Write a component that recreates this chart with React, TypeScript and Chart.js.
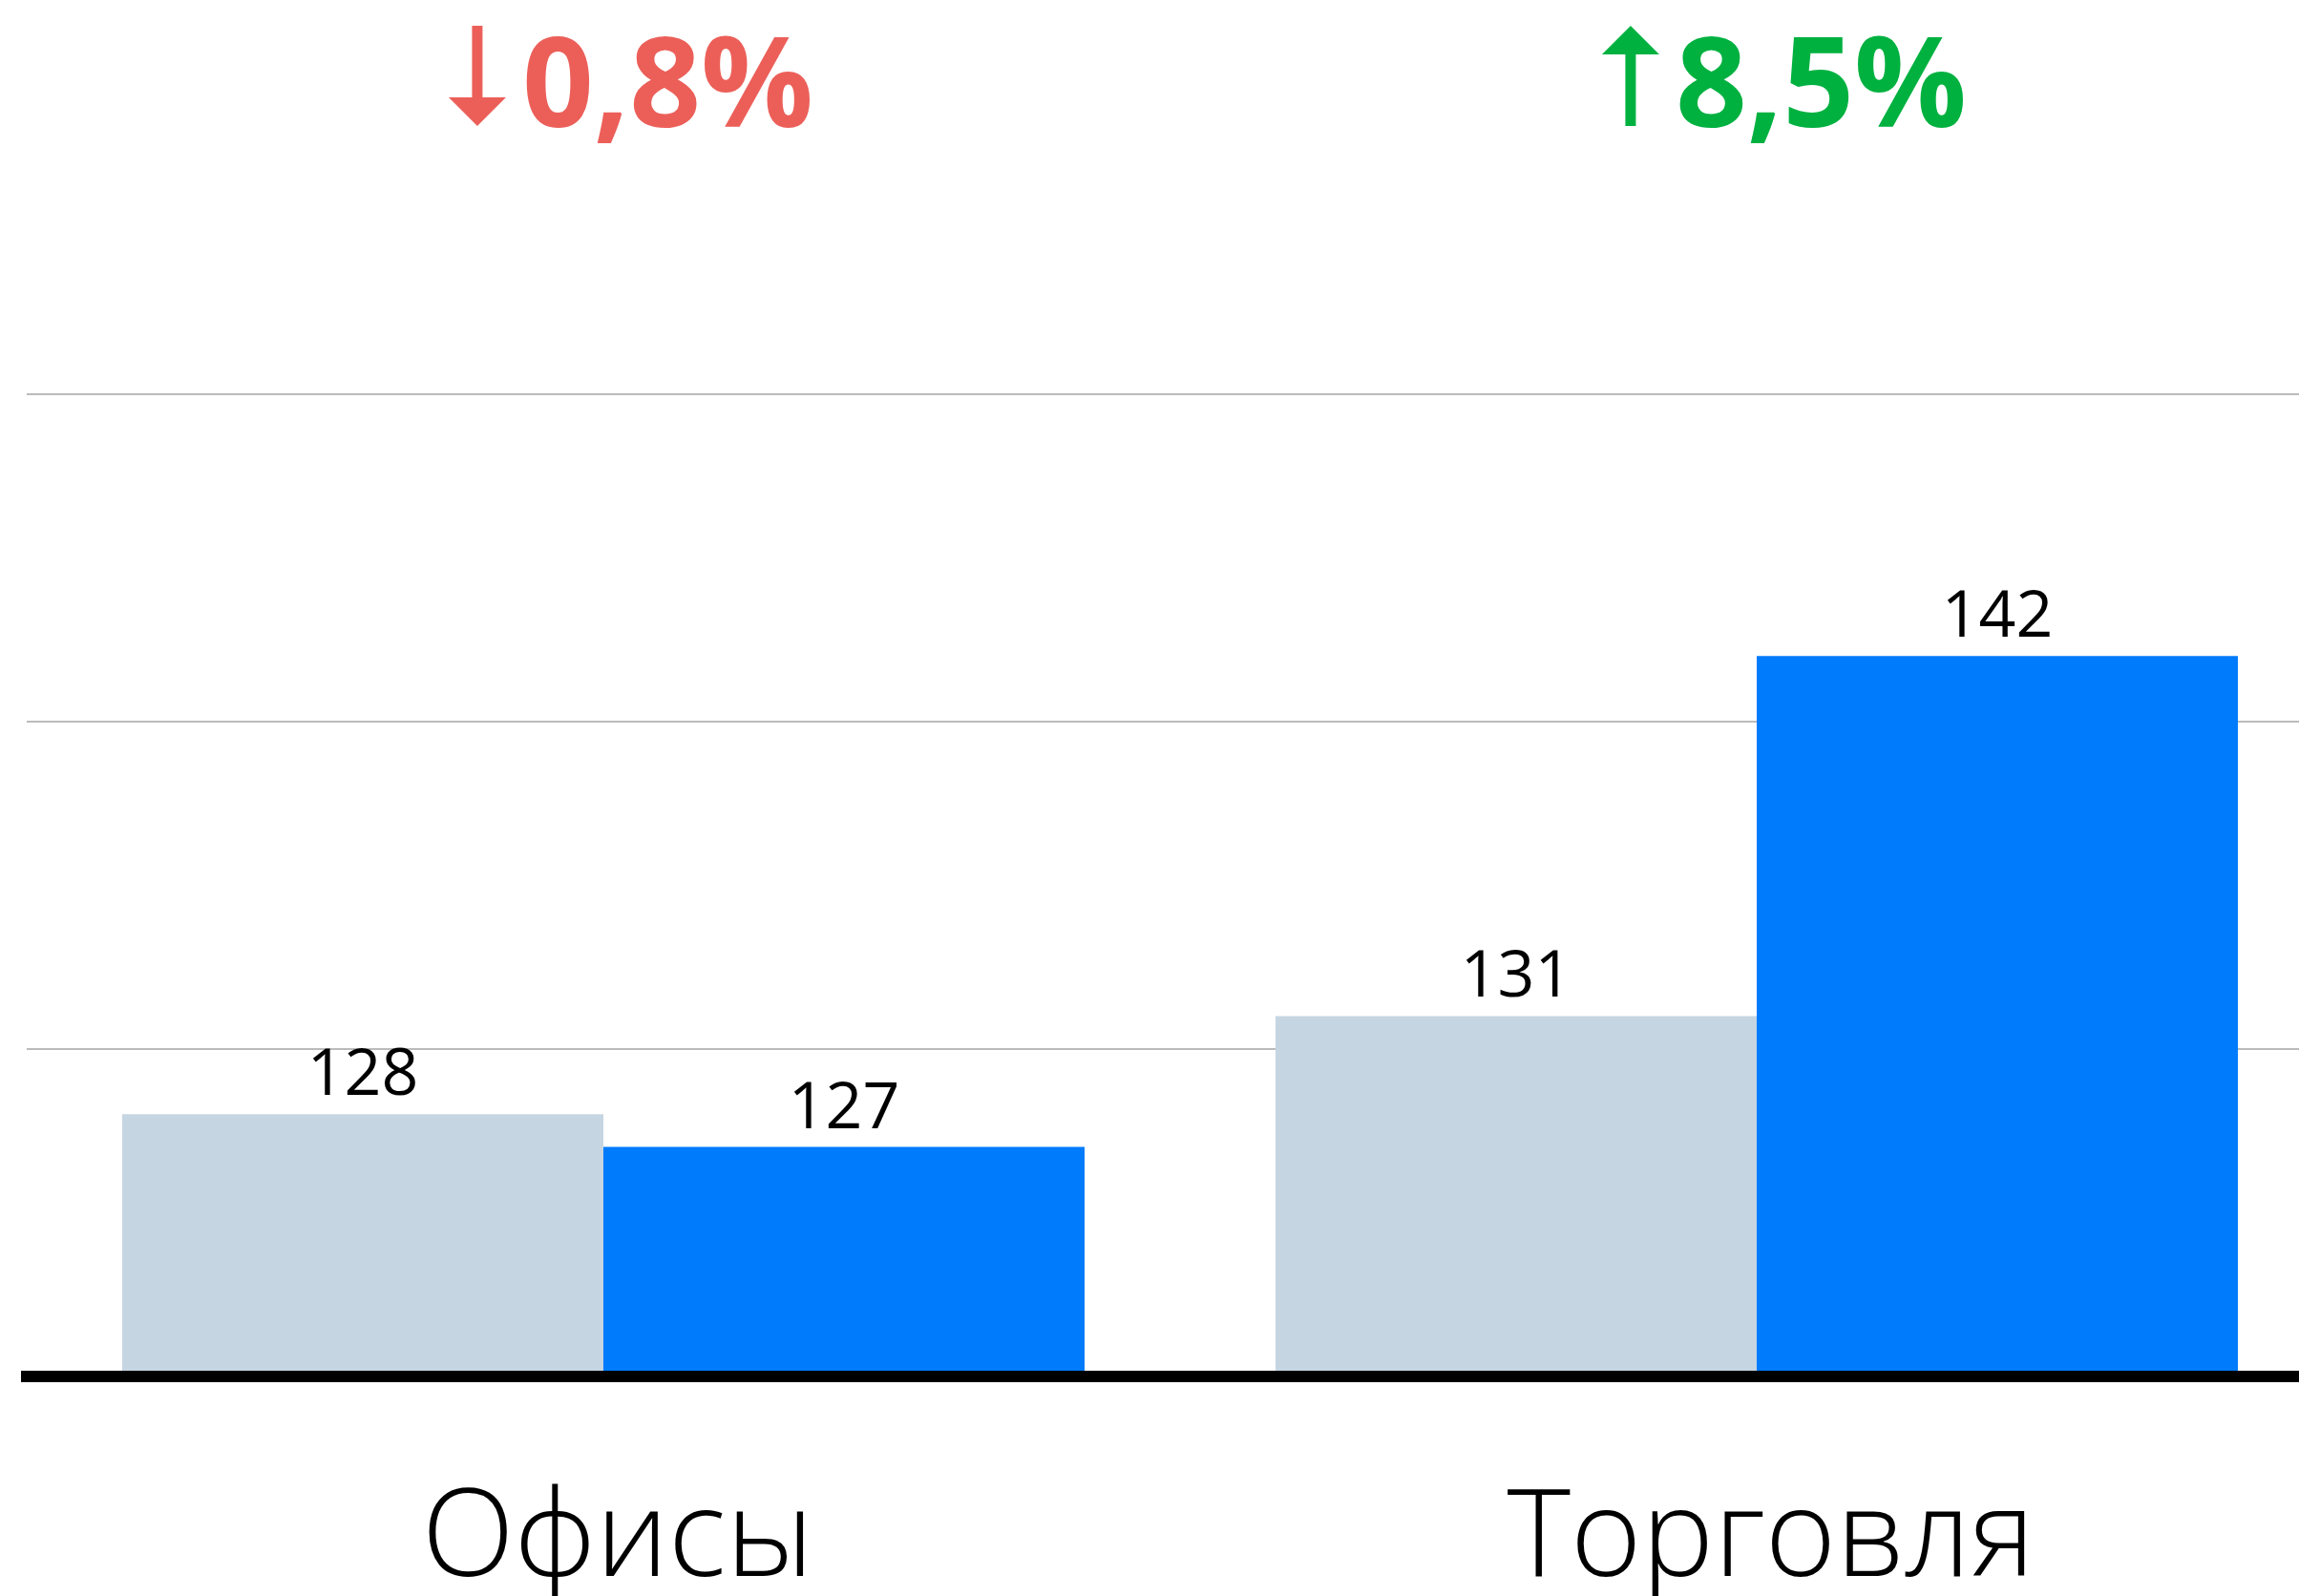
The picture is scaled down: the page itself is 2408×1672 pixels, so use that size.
import React, { useEffect, useRef } from 'react';
import { Chart, registerables } from 'chart.js';

Chart.register(...registerables);

// ---- Data ----
const categories = ['Офисы', 'Торговля'];
const previousValues = [128, 131];
const currentValues = [127, 142];
const changeLabels = ['0,8%', '8,5%'];
const changeDirections = ['down', 'up'];
const yTicks = [120, 130, 140, 150];

// ---- Styles ----
const FONT = '"Open Sans", "Noto Sans", sans-serif';
const GREY = '#C5D5E2';
const BLUE = '#007BFB';
const RED = '#EC5F59';
const GREEN = '#00B140';
const GRID = '#BBBBBB';

const W = 2460;
const H = 1672;

export default function App() {
  const ref = useRef<HTMLCanvasElement>(null);

  useEffect(() => {
    const canvas = ref.current;
    if (!canvas) return;

    const valueLabels = {
      id: 'valueLabels',
      afterDatasetsDraw(chart: any) {
        const ctx = chart.ctx;
        ctx.save();
        ctx.font = `400 68px ${FONT}`;
        ctx.fillStyle = '#000';
        ctx.textAlign = 'center';
        ctx.textBaseline = 'alphabetic';
        chart.data.datasets.forEach((ds: any, di: number) => {
          const meta = chart.getDatasetMeta(di);
          meta.data.forEach((bar: any, i: number) => {
            ctx.fillText(String(ds.data[i]), bar.x, bar.y - 20);
          });
        });
        ctx.restore();
      },
    };

    const changeBadges = {
      id: 'changeBadges',
      afterDraw(chart: any) {
        const ctx = chart.ctx;
        const xs = chart.scales.x;
        ctx.save();
        ctx.font = `700 131px ${FONT}`;
        ctx.textAlign = 'left';
        ctx.textBaseline = 'alphabetic';
        categories.forEach((_, i) => {
          const up = changeDirections[i] === 'up';
          const color = up ? GREEN : RED;
          const text = changeLabels[i];
          const tw = ctx.measureText(text).width;
          const arrowW = 60;
          const gap = 17;
          const total = arrowW + gap + tw;
          const cx = xs.getPixelForValue(i) + 29;
          const left = cx - total / 2;
          const top = 27;
          const bottom = 132;
          const headH = 30;
          const shaftW = 11;
          const ax = left + arrowW / 2;
          ctx.fillStyle = color;
          ctx.beginPath();
          if (up) {
            ctx.moveTo(ax, top);
            ctx.lineTo(left + arrowW, top + headH);
            ctx.lineTo(left, top + headH);
            ctx.closePath();
            ctx.fill();
            ctx.fillRect(ax - shaftW / 2, top + headH - 1, shaftW, bottom - top - headH + 1);
          } else {
            ctx.moveTo(ax, bottom);
            ctx.lineTo(left, bottom - headH);
            ctx.lineTo(left + arrowW, bottom - headH);
            ctx.closePath();
            ctx.fill();
            ctx.fillRect(ax - shaftW / 2, top, shaftW, bottom - top - headH + 1);
          }
          ctx.fillText(text, left + arrowW + gap, 133);
        });
        ctx.restore();
      },
    };

    const chart = new Chart(canvas, {
      type: 'bar',
      data: {
        labels: categories,
        datasets: [
          {
            label: 'Предыдущий период',
            data: previousValues,
            backgroundColor: GREY,
            borderWidth: 0,
            barPercentage: 1,
            categoryPercentage: 0.8344,
          },
          {
            label: 'Текущий период',
            data: currentValues,
            backgroundColor: BLUE,
            borderWidth: 0,
            barPercentage: 1,
            categoryPercentage: 0.8344,
          },
        ],
      },
      options: {
        responsive: false,
        animation: false,
        devicePixelRatio: 1,
        layout: { padding: { left: 28, right: 16, top: 413, bottom: 0 } },
        plugins: {
          legend: { display: false },
          tooltip: { enabled: false },
          title: { display: false },
        },
        scales: {
          x: {
            grid: { display: false, drawTicks: false },
            border: { display: true, color: '#000', width: 12, z: 1 },
            ticks: {
              color: '#000',
              font: { family: FONT, size: 127, weight: '300' as any },
              padding: 97,
              labelOffset: 15,
              maxRotation: 0,
              autoSkip: false,
            },
            afterFit(scale: any) {
              scale.height = 230.5;
            },
          },
          y: {
            min: 120,
            max: 150,
            grid: { color: GRID, lineWidth: 2, drawTicks: false },
            border: { display: false },
            ticks: { display: false },
            afterBuildTicks(scale: any) {
              scale.ticks = yTicks.map((v) => ({ value: v }));
            },
          },
        },
      },
      plugins: [valueLabels, changeBadges],
    } as any);

    return () => chart.destroy();
  }, []);

  return (
    <div
      style={{
        position: 'fixed',
        left: 0,
        top: 0,
        width: '100vw',
        height: '100vh',
        overflow: 'hidden',
        background: '#fff',
      }}
    >
      <canvas ref={ref} width={W} height={H} style={{ display: 'block', width: W, height: H }} />
    </div>
  );
}
